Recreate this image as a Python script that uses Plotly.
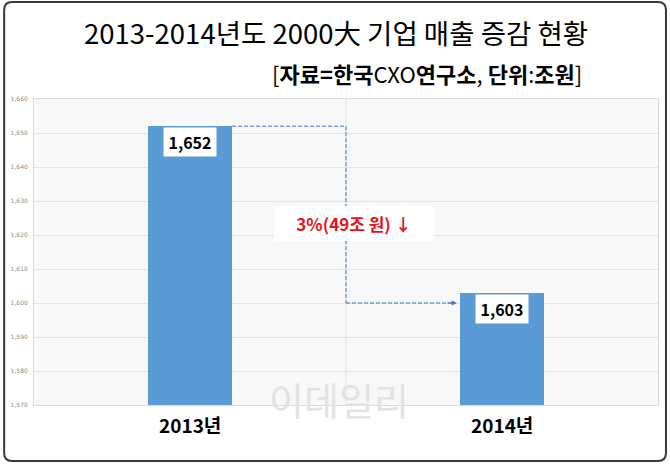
import plotly.graph_objects as go

categories = ["2013년", "2014년"]
sales = [1652, 1603]
value_labels = ["1,652", "1,603"]
change_label = "3%(49조 원) ↓"
title = "2013-2014년도 2000大 기업 매출 증감 현황"
subtitle = "[<b>자료=한국</b>CXO<b>연구소</b>, <b>단위</b>:<b>조원</b>]"
tick_vals = list(range(1570, 1661, 10))

KR = "Noto Sans CJK KR"

fig = go.Figure()
fig.add_trace(go.Bar(
    x=[0, 1], y=sales, width=0.27,
    marker=dict(color="#5b9bd5", line=dict(width=0)),
    hoverinfo="skip", showlegend=False,
))

# plot area geometry
L, R, T, B = 32, 11, 99, 59
W, H = 670, 464
pw, ph = W - L - R, H - T - B

def px(x):
    return (x - L) / pw

def py(y):
    return (H - B - y) / ph

shapes = []
# outer rounded border
x0, x1, y0, y1 = px(2), px(667), py(461), py(2)
rx, ry = 8 / pw, 8 / ph
path = (f"M {x0+rx},{y1} L {x1-rx},{y1} Q {x1},{y1} {x1},{y1-ry} "
        f"L {x1},{y0+ry} Q {x1},{y0} {x1-rx},{y0} L {x0+rx},{y0} "
        f"Q {x0},{y0} {x0},{y0+ry} L {x0},{y1-ry} Q {x0},{y1} {x0+rx},{y1} Z")
shapes.append(dict(type="path", xref="paper", yref="paper", path=path,
                   line=dict(color="#3a3a3a", width=2), layer="above"))
# category separator gridline
shapes.append(dict(type="line", xref="x", yref="paper", x0=0.5, x1=0.5, y0=0, y1=1,
                   line=dict(color="#e3e3e3", width=1), layer="below"))
# dashed connector
dash = dict(color="#4472c4", width=1, dash="4px,2px")
shapes.append(dict(type="line", xref="x", yref="y", x0=0.135, x1=0.5,
                   y0=sales[0], y1=sales[0], line=dash))
shapes.append(dict(type="line", xref="x", yref="y", x0=0.5, x1=0.5,
                   y0=sales[0], y1=1600, line=dash))
shapes.append(dict(type="line", xref="x", yref="y", x0=0.5, x1=0.84,
                   y0=1600, y1=1600, line=dash))

annotations = [
    dict(x=px(335), y=py(32), xref="paper", yref="paper", text=title, showarrow=False,
         font=dict(family=KR, size=27.5, color="#000"), xanchor="center", yanchor="middle"),
    dict(x=px(585), y=py(73), xref="paper", yref="paper", text=subtitle, showarrow=False,
         font=dict(family=KR, size=22, color="#000"), xanchor="right", yanchor="middle"),
    # arrow head
    dict(x=0.855, y=1600, ax=0.82, ay=1600, xref="x", yref="y", axref="x", ayref="y",
         text="", showarrow=True, arrowhead=2, arrowsize=1, arrowwidth=1,
         arrowcolor="#4472c4"),
    dict(x=0.525, y=1623.5, xref="x", yref="y", text="<b>" + change_label + "</b>",
         showarrow=False, font=dict(family=KR, size=17, color="#e8121a"),
         bgcolor="white", borderpad=5, borderwidth=0, width=150),
    dict(x=px(338), y=py(428), xref="paper", yref="paper", text="이데일리", showarrow=False,
         font=dict(family=KR, size=38, color="#e2e2e2")),
]
for i, (v, lab) in enumerate(zip(sales, value_labels)):
    annotations.append(dict(x=i, y=v, xref="x", yref="y", yshift=-16,
                            text="<b>" + lab + "</b>", showarrow=False,
                            font=dict(family=KR, size=16, color="#000"),
                            bgcolor="white", borderpad=2, width=48))
    annotations.append(dict(x=i, y=py(440), xref="x", yref="paper",
                            text="<b>" + categories[i] + "</b>", showarrow=False,
                            font=dict(family=KR, size=19, color="#000")))

fig.update_layout(
    width=W, height=H,
    margin=dict(l=L, r=R, t=T, b=B, pad=0),
    paper_bgcolor="white", plot_bgcolor="#f8f8f8",
    shapes=shapes, annotations=annotations,
    xaxis=dict(range=[-0.5, 1.5], showticklabels=False, showgrid=False, zeroline=False,
               showline=True, linecolor="#dcdcdc", mirror=True, fixedrange=True),
    yaxis=dict(range=[1570, 1660], tickvals=tick_vals, tickformat=",d",
               tickfont=dict(family="DejaVu Sans", size=6, color="#8a8a8a"),
               gridcolor="#e3e3e3", gridwidth=1, zeroline=False, showline=True,
               linecolor="#dcdcdc", mirror=True, ticks="", ticklabelstandoff=4),
    bargap=0,
)
fig.write_html("out.html", config={"displayModeBar": False},
               post_script="document.body.style.margin='0';")
